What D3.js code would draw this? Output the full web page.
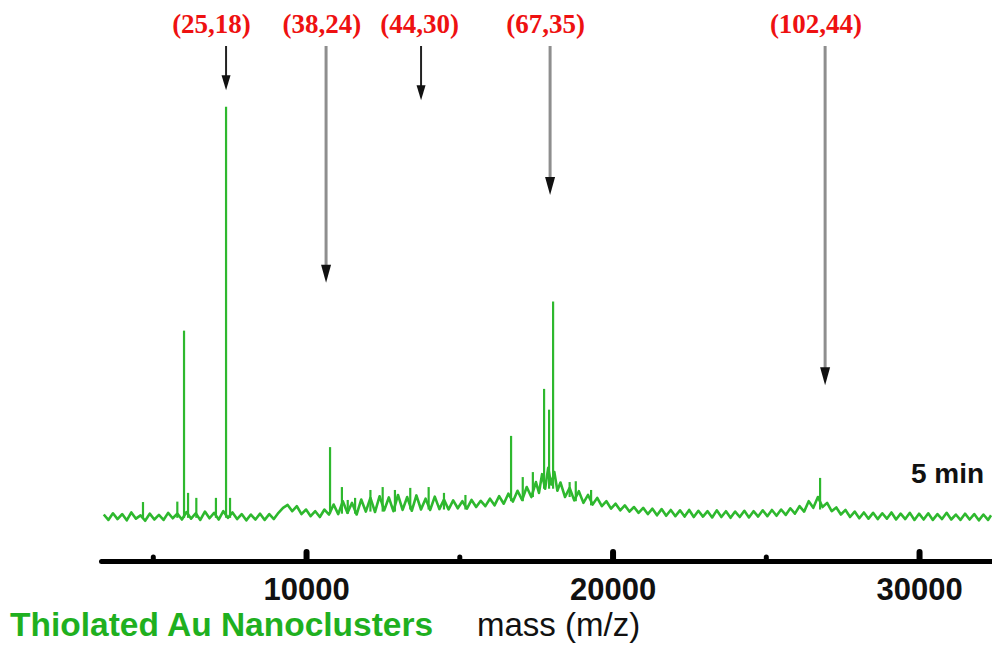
<!DOCTYPE html>
<html>
<head>
<title>Thiolated Au Nanoclusters - mass spectrum</title>
<script src="https://cdn.jsdelivr.net/npm/d3@7"></script>
<style type="text/css">
    body{ margin:0; background:#fff; }
    .trace{ fill:none; stroke:#2eb82e; stroke-width:2.6px; stroke-linejoin:round; }
    .spike{ stroke:#2eb82e; stroke-width:2.2px; }
    .axis .domain{ stroke:#000; stroke-width:5px; stroke-linecap:round; }
    .axis .tick line{ stroke:#000; stroke-width:6px; stroke-linecap:round; }
    .axis .tick text{ font-family:"Liberation Sans", Arial, sans-serif; font-weight:bold; font-size:31px; fill:#111; }
    .tag{ font-family:"Liberation Serif", "Times New Roman", serif; font-weight:bold; font-size:27px; fill:#ee1111; text-anchor:middle; }
</style>
</head>
<body>
<div id="chart"></div>
<script>
    var width = 992, height = 646;

    // spectrum trace, [mass, intensity]
    var spectrum = [
        [3400,1.8],[3550,0.5],[3700,2.1],[3850,0.7],[4000,1.9],[4150,0.4],[4300,2.3],[4450,0.8],[4600,1.6],[4750,0.3],
        [4900,2.0],[5050,0.6],[5200,1.7],[5350,0.5],[5500,2.2],[5650,0.9],[5800,2.0],[5950,0.6],[6100,2.4],[6250,0.8],
        [6400,2.1],[6550,0.5],[6700,2.5],[6850,0.9],[7000,2.2],[7150,0.6],[7300,2.6],[7450,1.0],[7600,2.3],[7750,0.7],
        [7900,1.9],[8050,0.4],[8200,1.8],[8350,0.6],[8500,2.0],[8650,0.5],[8800,1.9],[8950,0.7],[9100,2.2],[9250,3.4],
        [9400,4.1],[9550,2.6],[9700,3.8],[9850,1.9],[10000,3.0],[10150,1.4],[10300,2.6],[10450,1.2],[10600,3.0],[10750,1.8],
        [10900,4.2],[11050,1.9],[11200,5.0],[11350,2.2],[11500,4.6],[11650,1.8],[11800,5.4],[11950,2.5],[12100,5.8],[12250,2.4],
        [12400,6.2],[12550,2.8],[12700,5.9],[12850,2.6],[13000,6.5],[13150,2.9],[13300,6.0],[13450,2.7],[13600,6.4],[13750,3.0],
        [13900,5.6],[14050,2.9],[14200,6.1],[14350,3.1],[14500,5.4],[14650,3.0],[14800,5.2],[14950,3.3],[15100,5.0],[15250,3.2],
        [15400,5.3],[15550,3.6],[15700,5.1],[15850,3.8],[16000,5.6],[16150,4.0],[16300,6.2],[16450,4.4],[16600,6.8],[16750,4.9],
        [16900,7.5],[17050,5.3],[17200,8.4],[17350,6.0],[17500,9.6],[17600,7.0],[17700,11.5],[17800,8.0],[17900,13.0],[18000,9.0],
        [18100,12.0],[18200,7.5],[18300,9.5],[18450,6.0],[18600,8.2],[18750,5.2],[18900,7.4],[19050,4.6],[19200,6.5],[19350,4.2],
        [19500,5.8],[19650,3.8],[19800,5.0],[19950,3.2],[20100,4.4],[20250,2.8],[20400,4.0],[20550,2.5],[20700,3.6],[20850,2.2],
        [21000,3.4],[21150,1.9],[21300,3.2],[21450,1.6],[21600,3.1],[21750,1.5],[21900,2.9],[22050,1.4],[22200,2.8],[22350,1.3],
        [22500,2.9],[22650,1.2],[22800,2.7],[22950,1.3],[23100,2.6],[23250,1.1],[23400,2.8],[23550,1.2],[23700,2.6],[23850,1.0],
        [24000,2.5],[24150,1.2],[24300,2.7],[24450,1.1],[24600,2.6],[24750,1.3],[24900,2.8],[25050,1.4],[25200,2.9],[25350,1.5],
        [25500,3.0],[25650,1.7],[25800,3.3],[25950,2.0],[26100,3.8],[26250,2.5],[26400,5.0],[26550,3.4],[26700,6.0],[26850,3.6],
        [27000,4.6],[27150,2.6],[27300,3.5],[27450,1.8],[27600,2.9],[27750,1.2],[27900,2.5],[28050,0.9],[28200,2.3],[28350,0.8],
        [28500,2.2],[28650,0.7],[28800,2.1],[28950,0.8],[29100,2.3],[29250,0.6],[29400,2.0],[29550,0.7],[29700,2.2],[29850,0.5],
        [30000,2.0],[30150,0.6],[30300,2.1],[30450,0.5],[30600,1.9],[30750,0.7],[30900,2.2],[31050,0.6],[31200,1.8],[31350,0.5],
        [31500,2.0],[31650,0.6],[31800,1.9],[31950,0.4],[32100,1.8],[32250,0.5],[32350,1.6]
    ];

    // sharp peaks: position, top and foot intensity
    var peakMass = [4680, 5800, 6019, 6150, 6420, 7060, 7390, 7520, 10783, 11170, 11360, 11600, 12100, 12500, 12900,
                    13400, 14000, 14500, 15200, 16689, 17070, 17400, 17766, 17929, 18060, 18600, 18800, 19300, 26771];
    var peakTop  = [4.8, 4.9, 46, 7.0, 5.8, 5.8, 99.8, 5.8, 18, 8.4, 5.3, 5.8, 7.7, 8.4, 7.7,
                    8.2, 8.4, 7.0, 6.5, 20.7, 10.8, 12, 32, 27, 53, 9.6, 9.8, 7.7, 10.6];
    var peakBase = [1, 1, 1, 1, 1, 1, 1, 1, 2, 2, 2, 2, 2.5, 2.5, 2.5,
                    3, 3, 3, 3, 5, 5, 6, 8, 8, 8, 6, 5, 4, 3];

    // cluster assignments (n Au, m thiolate)
    var tagLabels = ["(25,18)", "(38,24)", "(44,30)", "(67,35)", "(102,44)"];
    var tagMass   = [6915, 10520, 13702, 17813, 26638];
    var arrowMass = [7390, 10653, 13752, 17962, 26935];
    var arrowTip  = [103.8, 57.5, 101.4, 78.6, 32.9];
    var arrowKind = ["short", "long", "short", "long", "long"];

    var majorTicks = [10000, 20000, 30000];
    var minorTicks = [5000, 15000, 25000];

    var svg = d3.select("#chart").append("svg")
        .attr("width", width)
        .attr("height", height);

    var x = d3.scaleLinear().domain([3310, 32380]).range([101, 992]);
    var y = d3.scaleLinear().domain([0, 100]).range([522, 106]);

    // spectrum
    var line = d3.line().x(d => x(d[0])).y(d => y(d[1]));
    svg.append("path").datum(spectrum).attr("class", "trace").attr("d", line);

    svg.append("g").selectAll("line")
        .data(peakMass)
        .enter().append("line")
            .attr("class", "spike")
            .attr("x1", d => x(d)).attr("x2", d => x(d))
            .attr("y1", (d, i) => y(peakBase[i]))
            .attr("y2", (d, i) => y(peakTop[i]));

    // axis with upward ticks
    var axisY = 561;
    var axisG = svg.append("g").attr("class", "axis").attr("transform", "translate(0," + axisY + ")");
    axisG.call(d3.axisBottom(x).tickValues(majorTicks).tickFormat(d3.format("d"))
        .tickSize(-9).tickSizeOuter(0).tickPadding(17));
    axisG.append("g").attr("class", "axis").call(d3.axisBottom(x).tickValues(minorTicks).tickFormat("")
        .tickSize(-4).tickSizeOuter(0))
        .select(".domain").remove();
    axisG.attr("font-family", null).attr("font-size", null);
    axisG.selectAll(".tick line").style("stroke-width", (d) => minorTicks.indexOf(d) >= 0 ? "5px" : "6px");

    // arrows
    var arrowTop = 46;
    var arrows = svg.append("g");
    tagLabels.forEach(function (t, i) {
        var ax = x(arrowMass[i]), tip = y(arrowTip[i]);
        var headLen = arrowKind[i] == "short" ? 15 : 18;
        var headW = arrowKind[i] == "short" ? 4.5 : 5;
        arrows.append("line")
            .attr("x1", ax).attr("x2", ax)
            .attr("y1", arrowTop).attr("y2", tip - headLen + 2)
            .attr("stroke", arrowKind[i] == "short" ? "#222" : "#8e8e8e")
            .attr("stroke-width", arrowKind[i] == "short" ? 2 : 3);
        arrows.append("path")
            .attr("d", "M" + (ax - headW) + "," + (tip - headLen) + "L" + (ax + headW) + "," + (tip - headLen) +
                       "L" + ax + "," + tip + "Z")
            .attr("fill", "#111");
        svg.append("text").attr("class", "tag")
            .attr("x", x(tagMass[i])).attr("y", 33)
            .text(t);
    });

    // texts
    svg.append("text")
        .attr("x", 911).attr("y", 483)
        .style("font-family", "'Liberation Sans', Arial, sans-serif")
        .style("font-weight", "bold").style("font-size", "28px").style("fill", "#111")
        .text("5 min");

    svg.append("text")
        .attr("x", 10).attr("y", 636)
        .style("font-family", "'Liberation Sans', Arial, sans-serif")
        .style("font-weight", "bold").style("font-size", "33.5px").style("fill", "#1fb01f")
        .text("Thiolated Au Nanoclusters");

    svg.append("text")
        .attr("x", 477).attr("y", 636)
        .style("font-family", "'Liberation Sans', Arial, sans-serif")
        .style("font-size", "33px").style("fill", "#111")
        .text("mass (m/z)");
</script>
</body>
</html>
